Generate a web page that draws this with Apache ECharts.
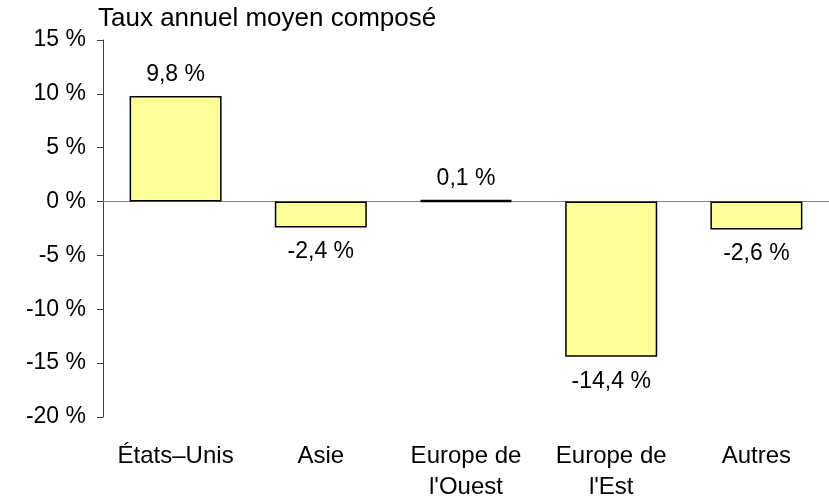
<!DOCTYPE html>
<html>
<head>
<meta charset="utf-8">
<script src="https://cdn.jsdelivr.net/npm/echarts@6/dist/echarts.min.js"></script>
<style>
  html, body { margin: 0; padding: 0; background: #fff; }
  #chart { width: 829px; height: 503px; }
</style>
</head>
<body>
<div id="chart"></div>
<script>
const categories = ['États–Unis', 'Asie', 'Europe de\nl\'Ouest', 'Europe de\nl\'Est', 'Autres'];
const values = [9.8, -2.4, 0.1, -14.4, -2.6];
const yTicks = [-20, -15, -10, -5, 0, 5, 10, 15];

const pct = (v) => String(v).replace('.', ',') + ' %';
const FONT = 'Liberation Sans';
const FS = 23;

const chart = echarts.init(document.getElementById('chart'), null, { width: 829, height: 503 });
chart.setOption({
  animation: false,
  textStyle: { fontFamily: FONT, fontSize: FS, color: '#000' },
  title: {
    text: 'Taux annuel moyen composé',
    left: 93,
    top: 1,
    textStyle: { fontFamily: FONT, fontSize: 26, fontWeight: 'normal', color: '#000' },
  },
  grid: { left: 103, top: 40, width: 732, bottom: 85, containLabel: false },
  xAxis: {
    type: 'category',
    data: categories,
    position: 'bottom',
    axisLine: { onZero: true, lineStyle: { color: '#808080', width: 1 } },
    axisTick: { show: false },
    axisLabel: {
      interval: 0,
      fontFamily: FONT,
      fontSize: 24,
      color: '#000',
      lineHeight: 31,
      margin: 24,
    },
  },
  yAxis: {
    type: 'value',
    min: yTicks[0],
    max: yTicks[yTicks.length - 1],
    interval: 5,
    splitLine: { show: false },
    axisLine: { show: true, lineStyle: { color: '#404040' } },
    axisTick: { show: true, length: 6, lineStyle: { color: '#404040' } },
    axisLabel: {
      formatter: (v) => v + ' %',
      fontFamily: FONT,
      fontSize: FS,
      color: '#000',
      margin: 17,
    },
  },
  series: [
    {
      type: 'bar',
      data: values.map((v) => ({
        value: v,
        label: { position: v >= 0 ? 'top' : 'bottom', distance: v >= 0 ? 10 : 13 },
        itemStyle: Math.abs(v) < 0.5 ? { borderWidth: 2.5 } : {},
      })),
      barWidth: 92,
      itemStyle: { color: '#FFFF99', borderColor: '#000', borderWidth: 1.5 },
      label: {
        show: true,
        formatter: (p) => pct(p.value),
        fontFamily: FONT,
        fontSize: FS,
        color: '#000',
      },
    },
  ],
});
</script>
</body>
</html>
